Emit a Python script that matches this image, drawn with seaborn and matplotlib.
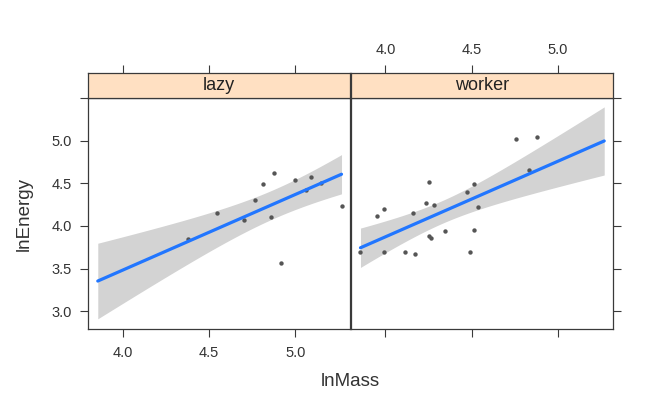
import matplotlib
matplotlib.use("Agg")
import matplotlib.pyplot as plt
import seaborn as sns
import numpy as np
import pandas as pd

sns.set_theme(style="white")
plt.rcParams['font.family'] = ['Liberation Sans', 'DejaVu Sans']

groups = ["lazy", "worker"]

lazy_mass = [4.381, 4.546, 4.703, 4.765, 4.816, 4.878, 4.862, 4.916, 5.002, 5.062, 5.091, 5.151, 5.269]
lazy_energy = [3.843, 4.148, 4.069, 4.304, 4.492, 4.617, 4.101, 3.561, 4.535, 4.421, 4.577, 4.500, 4.237]

worker_mass = [3.855, 3.951, 3.992, 3.992, 4.112, 4.162, 4.174, 4.236, 4.252, 4.252, 4.263,
               4.279, 4.345, 4.471, 4.492, 4.515, 4.515, 4.535, 4.757, 4.830, 4.878]
worker_energy = [3.694, 4.116, 4.195, 3.694, 3.694, 4.148, 3.670, 4.265, 4.515, 3.881, 3.854,
                 4.249, 3.936, 4.398, 3.694, 4.492, 3.955, 4.225, 5.020, 4.653, 5.047]

xticks = [4.0, 4.5, 5.0]
yticks = [3.0, 3.5, 4.0, 4.5, 5.0, 5.5]
ytick_labels = ["3.0", "3.5", "4.0", "4.5", "5.0", ""]
xlabel = "lnMass"
ylabel = "lnEnergy"

df = pd.DataFrame({
    "lnMass": lazy_mass + worker_mass,
    "lnEnergy": lazy_energy + worker_energy,
    "group": ["lazy"] * len(lazy_mass) + ["worker"] * len(worker_mass),
})

# additive model: lnEnergy ~ lnMass + group (parallel lines)
X = np.column_stack([np.ones(len(df)), df.lnMass.values, (df.group == "worker").astype(float).values])
yv = df.lnEnergy.values
beta, *_ = np.linalg.lstsq(X, yv, rcond=None)
resid = yv - X @ beta
dof = len(yv) - X.shape[1]
s2 = resid @ resid / dof
XtXi = np.linalg.inv(X.T @ X)
tq = 2.037  # t(0.975, 32)

xs = np.linspace(df.lnMass.min(), df.lnMass.max(), 80)

W, H = 657, 407
fig = plt.figure(figsize=(W / 100, H / 100), dpi=100)
fig.patch.set_facecolor("white")

panel_left = [88.3, 351.0]
panel_w = 262.0
panel_top, panel_bot = 97.7, 329.0
strip_top = 73.5

xlim = (3.80, 5.32)
ylim = (2.79, 5.505)

frame_col = "#3a3a3a"
tick_kw = dict(length=6, width=0.8, color=frame_col, labelsize=10.5, labelcolor="#333333", pad=6)

for i, g in enumerate(groups):
    sub = df[df.group == g]
    ax = fig.add_axes([panel_left[i] / W, 1 - panel_bot / H, panel_w / W, (panel_bot - panel_top) / H])
    Xp = np.column_stack([np.ones_like(xs), xs, np.full_like(xs, float(g == "worker"))])
    fit = Xp @ beta
    se = np.sqrt(np.einsum("ij,jk,ik->i", Xp, XtXi, Xp) * s2)
    pred = pd.DataFrame({"lnMass": xs, "fit": fit, "lo": fit - tq * se, "hi": fit + tq * se})
    ax.fill_between(pred.lnMass, pred.lo, pred.hi, color="#D3D3D3", lw=0, zorder=1)
    sns.scatterplot(data=sub, x="lnMass", y="lnEnergy", ax=ax, s=10, color="#555555",
                    linewidth=0, zorder=3)
    sns.lineplot(data=pred, x="lnMass", y="fit", ax=ax, color="#2176FF", lw=2.3, zorder=4)
    ax.set_xlim(*xlim)
    ax.set_ylim(*ylim)
    ax.set_xlabel("")
    ax.set_ylabel("")
    ax.set_facecolor("white")
    for s in ax.spines.values():
        s.set_color(frame_col)
        s.set_linewidth(0.9)
        s.set_visible(True)
    ax.set_xticks(xticks)
    ax.set_yticks(yticks)
    ax.xaxis.set_ticks_position("bottom")
    ax.tick_params(axis="x", direction="out", bottom=True, **tick_kw)
    if i == 0:
        ax.set_xticklabels([f"{t:.1f}" for t in xticks])
        ax.set_yticklabels(ytick_labels)
        ax.tick_params(axis="y", direction="out", left=True, right=False, **tick_kw)
    else:
        ax.set_xticklabels([])
        ax.yaxis.set_ticks_position("right")
        ax.tick_params(axis="y", direction="out", left=False, right=True, labelright=False, **tick_kw)
    ax.grid(False)

    # strip
    sax = fig.add_axes([panel_left[i] / W, 1 - panel_top / H, panel_w / W, (panel_top - strip_top) / H])
    sax.set_facecolor("#FFE0C2")
    sax.set_xlim(*xlim)
    sax.set_ylim(0, 1)
    sax.set_yticks([])
    sax.set_xticks(xticks)
    sax.xaxis.set_ticks_position("top")
    sax.tick_params(axis="x", direction="out", top=True, bottom=False, **tick_kw)
    if i == 1:
        sax.set_xticklabels([f"{t:.1f}" for t in xticks])
    else:
        sax.set_xticklabels([])
    for s in sax.spines.values():
        s.set_color(frame_col)
        s.set_linewidth(0.9)
    sax.text(0.5, 0.5, g, transform=sax.transAxes, ha="center", va="center",
             fontsize=13, color="#222222")

fig.text(350 / W, 1 - 381 / H, xlabel, ha="center", va="center", fontsize=13.5, color="#333333")
fig.text(24.5 / W, 1 - 214 / H, ylabel, ha="center", va="center", rotation=90, fontsize=13.5, color="#333333")

fig.savefig("out.png", dpi=100, facecolor="white")
